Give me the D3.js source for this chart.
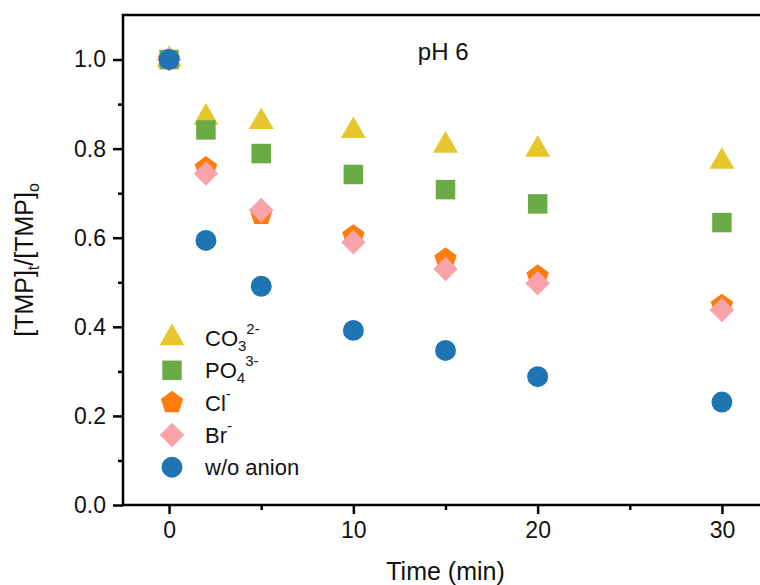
<!DOCTYPE html>
<html>
<head>
<meta charset="utf-8">
<script src="https://cdn.jsdelivr.net/npm/d3@7"></script>
<style>
  body { margin: 0; background: #fff; }
  text { font-family: "Liberation Sans", Arial, sans-serif; fill: #111; }
</style>
</head>
<body>
<svg width="760" height="585"></svg>
<script>
// data
var times = [0, 2, 5, 10, 15, 20, 30];
var co3 = [1.0, 0.870, 0.860, 0.840, 0.807, 0.798, 0.771];
var po4 = [1.0, 0.842, 0.789, 0.742, 0.708, 0.676, 0.634];
var cl = [1.0, 0.757, 0.652, 0.604, 0.552, 0.514, 0.448];
var br = [1.0, 0.744, 0.662, 0.590, 0.530, 0.498, 0.438];
var noAnion = [1.0, 0.594, 0.491, 0.392, 0.347, 0.288, 0.231];

var xTicks = [0, 10, 20, 30];
var xMinor = [5, 15, 25];
var yTicks = [0, 0.2, 0.4, 0.6, 0.8, 1.0];
var yMinor = [0.1, 0.3, 0.5, 0.7, 0.9];

var svg = d3.select("svg"),
    margin = {top: 15, right: -8, bottom: 80, left: 123},
    width = svg.attr("width") - margin.left - margin.right,
    height = svg.attr("height") - margin.top - margin.bottom,
    g = svg.append("g").attr("transform", "translate(" + margin.left + "," + margin.top + ")");

var x = d3.scaleLinear().domain([-2.5, 32.5]).range([0, width]),
    y = d3.scaleLinear().domain([0, 1.1]).range([height, 0]);

// pentagon, point up
var pentagon = {
  draw: function(context, size) {
    var r = Math.sqrt(size / 2.378);
    for (var i = 0; i < 5; i++) {
      var a = -Math.PI / 2 + i * 2 * Math.PI / 5;
      if (i === 0) context.moveTo(r * Math.cos(a), r * Math.sin(a));
      else context.lineTo(r * Math.cos(a), r * Math.sin(a));
    }
    context.closePath();
  }
};

var series = [
  {name: "CO", sub: "3", sup: "2-", values: co3, color: "#e6c62c", type: d3.symbolTriangle, size: 270, rot: 0},
  {name: "PO", sub: "4", sup: "3-", values: po4, color: "#6aab46", type: d3.symbolSquare, size: 380, rot: 0},
  {name: "Cl", sub: "", sup: "-", values: cl, color: "#ff7d0c", type: pentagon, size: 330, rot: 0},
  {name: "Br", sub: "", sup: "-", values: br, color: "#f8a3a8", type: d3.symbolSquare, size: 300, rot: 45},
  {name: "w/o anion", sub: "", sup: "", values: noAnion, color: "#1f74b4", type: d3.symbolCircle, size: 345, rot: 0}
];

// frame
g.append("rect")
  .attr("width", width)
  .attr("height", height)
  .attr("fill", "none")
  .attr("stroke", "#000")
  .attr("stroke-width", 2.5);

// axes
g.append("g")
  .attr("transform", "translate(0," + height + ")")
  .call(d3.axisBottom(x).tickValues(xTicks).tickSize(9).tickPadding(8).tickFormat(d3.format("d")));

g.append("g")
  .attr("transform", "translate(0," + height + ")")
  .call(d3.axisBottom(x).tickValues(xMinor).tickSize(5).tickFormat(""));

g.append("g")
  .call(d3.axisLeft(y).tickValues(yTicks).tickSize(10).tickPadding(7).tickFormat(d3.format(".1f")));

g.append("g")
  .call(d3.axisLeft(y).tickValues(yMinor).tickSize(5).tickFormat(""));

g.selectAll(".domain").remove();
g.selectAll(".tick line").attr("stroke", "#000").attr("stroke-width", 2.5);
g.selectAll(".tick text").style("font-size", "23px").style("font-family", "Liberation Sans, Arial, sans-serif").attr("fill", "#111");

// axis titles
svg.append("text")
  .attr("x", margin.left + x(15))
  .attr("y", 580)
  .attr("text-anchor", "middle")
  .style("font-size", "25px")
  .text("Time (min)");

var yl = svg.append("text")
  .attr("transform", "translate(33," + (margin.top + height / 2) + ") rotate(-90)")
  .attr("text-anchor", "middle")
  .style("font-size", "25px");
yl.append("tspan").text("[TMP]");
yl.append("tspan").attr("dy", 6).style("font-size", "16px").text("t");
yl.append("tspan").attr("dy", -6).text("/[TMP]");
yl.append("tspan").attr("dy", 6).style("font-size", "16px").text("o");

g.append("text")
  .attr("x", x(13.5))
  .attr("y", 45)
  .style("font-size", "24px")
  .text("pH 6");

// points
var symbol = d3.symbol();
series.forEach(function(s) {
  g.selectAll(null)
    .data(times.map(function(t, i) { return {t: t, v: s.values[i]}; }))
    .enter().append("path")
    .attr("transform", function(d) { return "translate(" + x(d.t) + "," + y(d.v) + ") rotate(" + s.rot + ")"; })
    .attr("d", symbol.type(s.type).size(s.size)())
    .attr("fill", s.color);
});

// legend
var legend = g.selectAll(".legend")
  .data(series)
  .enter().append("g")
  .attr("class", "legend")
  .attr("transform", function(d, i) { return "translate(49," + (323 + i * 32.3) + ")"; });

legend.append("path")
  .attr("transform", function(d) { return "rotate(" + d.rot + ")"; })
  .attr("d", function(d) { return symbol.type(d.type).size(d.size)(); })
  .attr("fill", function(d) { return d.color; });

var lt = legend.append("text")
  .attr("x", 33)
  .attr("dy", "0.36em")
  .style("font-size", "22px");
lt.append("tspan").text(function(d) { return d.name; });
lt.append("tspan").attr("dy", 5).style("font-size", "15px").text(function(d) { return d.sub; });
lt.append("tspan").attr("dy", function(d) { return d.sub ? -17 : -12; }).style("font-size", "15px").text(function(d) { return d.sup; });
</script>
</body>
</html>
